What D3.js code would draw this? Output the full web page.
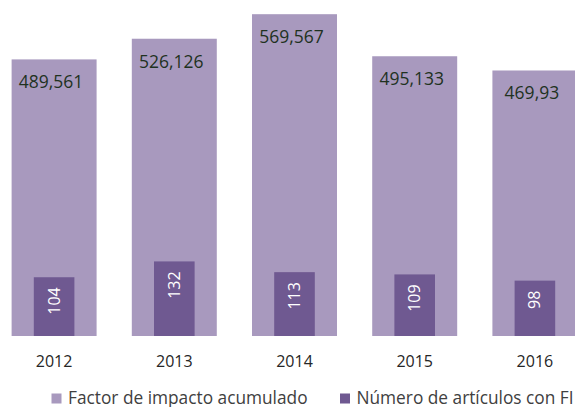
<!DOCTYPE html>
<html>
<head>
<meta charset="utf-8">
<script src="https://cdn.jsdelivr.net/npm/d3@7"></script>
<style>
  body { margin: 0; background: #fff; }
  svg { display: block; font-family: "Open Sans", sans-serif; }
</style>
</head>
<body>
<svg id="chart" width="575" height="407"></svg>
<script>
// data
var years = ["2012", "2013", "2014", "2015", "2016"];
var factorImpacto = [489.561, 526.126, 569.567, 495.133, 469.93];
var factorLabels = ["489,561", "526,126", "569,567", "495,133", "469,93"];
var numArticulos = [104, 132, 113, 109, 98];
var legendNames = ["Factor de impacto acumulado", "Número de artículos con FI"];

var colBig = "#a899be", colSmall = "#6f5991";

var svg = d3.select("#chart");

var x = d3.scaleBand()
    .domain(years)
    .range([-6, 595])
    .paddingInner(0.293)
    .paddingOuter(0.1465);

// both series share the same visual scale
var y = d3.scaleLinear().domain([0, 600]).range([336, -3]);

var rows = years.map(function(yr, i) {
    return {year: yr, fi: factorImpacto[i], lab: factorLabels[i], n: numArticulos[i]};
});

var smallW = 40.6;

var g = svg.append("g").selectAll("g.cat")
    .data(rows)
    .enter().append("g").attr("class", "cat");

g.append("rect")
    .attr("x", function(d) { return x(d.year); })
    .attr("y", function(d) { return y(d.fi); })
    .attr("width", x.bandwidth())
    .attr("height", function(d) { return y(0) - y(d.fi); })
    .attr("fill", colBig);

g.append("text")
    .attr("x", function(d) { return x(d.year) + x.bandwidth() / 2 - 3; })
    .attr("y", function(d) { return y(d.fi) + 29; })
    .attr("text-anchor", "middle")
    .attr("font-size", "17.5px")
    .attr("fill", "#1f321f")
    .text(function(d) { return d.lab; });

g.append("rect")
    .attr("x", function(d) { return x(d.year) + x.bandwidth() / 2 - smallW / 2; })
    .attr("y", function(d) { return y(d.n); })
    .attr("width", smallW)
    .attr("height", function(d) { return y(0) - y(d.n); })
    .attr("fill", colSmall);

g.append("text")
    .attr("transform", function(d) {
        var cx = x(d.year) + x.bandwidth() / 2 + 5.5;
        return "translate(" + cx + "," + (y(d.n) + 10) + ") rotate(-90)";
    })
    .attr("text-anchor", "end")
    .attr("font-size", "16px")
    .attr("fill", "#fff")
    .text(function(d) { return d.n; });

// category axis
var axis = svg.append("g")
    .attr("transform", "translate(0," + y(0) + ")")
    .call(d3.axisBottom(x).tickSize(0).tickPadding(19.6));
axis.select(".domain").remove();
axis.selectAll("text")
    .attr("font-family", "Open Sans, sans-serif")
    .attr("font-size", "16px")
    .attr("fill", "#262626");

// legend
var legendX = [51.5, 340];
var lg = svg.append("g").selectAll("g")
    .data(legendNames)
    .enter().append("g")
    .attr("transform", function(d, i) { return "translate(" + legendX[i] + ",393.5)"; });

lg.append("rect")
    .attr("width", 10).attr("height", 10)
    .attr("fill", function(d, i) { return i === 0 ? colBig : colSmall; });

lg.append("text")
    .attr("x", 16.5)
    .attr("y", 10)
    .attr("font-size", "17.3px")
    .attr("fill", "#404040")
    .text(function(d) { return d; });
</script>
</body>
</html>
